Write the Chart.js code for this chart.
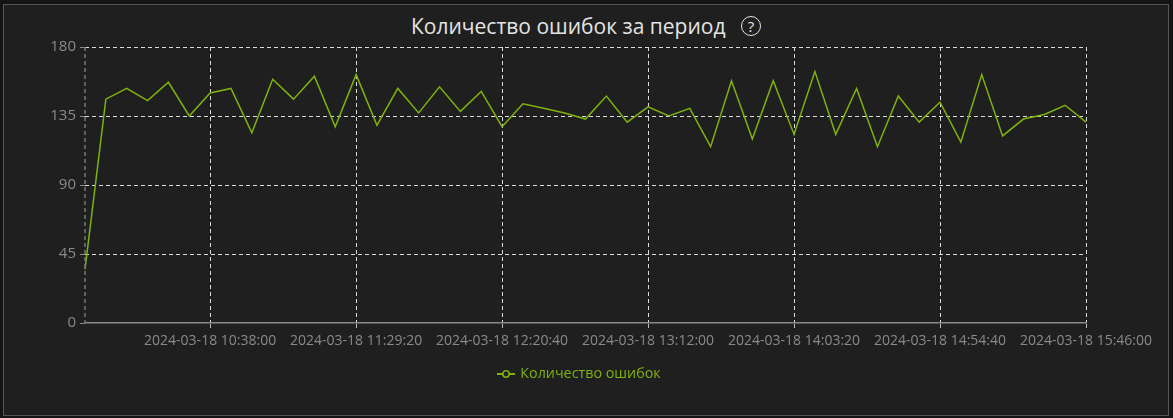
<!DOCTYPE html>
<html>
<head>
  <title>Количество ошибок за период</title>
  <script src="https://cdn.jsdelivr.net/npm/chart.js"></script>
  <style>
    body {
      margin: 0;
      background: #141414;
      font-family: "Open Sans", "Noto Sans", sans-serif;
    }
    #box {
      position: absolute;
      left: 3px;
      top: 4px;
      width: 1164px;
      height: 410px;
      border: 1px solid #555;
      background: #1f1f1f;
    }
    #title {
      position: absolute;
      left: 0;
      top: 7px;
      width: 1164px;
      text-align: center;
      color: #e4e4e4;
      font-size: 21px;
      line-height: 28px;
    }
    #title .help {
      display: inline-block;
      width: 18px;
      height: 18px;
      border: 1.6px solid #e4e4e4;
      border-radius: 50%;
      font-size: 15px;
      line-height: 18px;
      margin-left: 10px;
      vertical-align: 2px;
    }
    #legend {
      position: absolute;
      left: 0;
      top: 358px;
      width: 1150px;
      text-align: center;
      color: #7fb20c;
      font-size: 14.3px;
    }
    #legend svg { vertical-align: -1px; margin-right: 5px; }
    canvas { position: absolute; left: 0; top: 0; }
  </style>
</head>
<body>
<div id="box">
  <div id="title">Количество ошибок за период <span class="help">?</span></div>
  <canvas id="errChart" width="1164" height="410"></canvas>
  <div id="legend">
    <svg width="18" height="10"><line x1="0" y1="5" x2="18" y2="5" stroke="#7fb20c" stroke-width="2"/><circle cx="9" cy="5" r="3.2" fill="#1f1f1f" stroke="#7fb20c" stroke-width="1.6"/></svg>Количество ошибок
  </div>
</div>

<script>
  // data
  const day = "2024-03-18";
  const times = [
    "09:54:00", "10:01:20", "10:08:40", "10:16:00", "10:23:20", "10:30:40", "10:38:00",
    "10:45:20", "10:52:40", "11:00:00", "11:07:20", "11:14:40", "11:22:00", "11:29:20",
    "11:36:40", "11:44:00", "11:51:20", "11:58:40", "12:06:00", "12:13:20", "12:20:40",
    "12:28:00", "12:35:20", "12:42:40", "12:50:00", "12:57:20", "13:04:40", "13:12:00",
    "13:19:20", "13:26:40", "13:34:00", "13:41:20", "13:48:40", "13:56:00", "14:03:20",
    "14:10:40", "14:18:00", "14:25:20", "14:32:40", "14:40:00", "14:47:20", "14:54:40",
    "15:02:00", "15:09:20", "15:16:40", "15:24:00", "15:31:20", "15:38:40", "15:46:00"
  ];
  const errors = [
    35, 146, 153, 145, 157, 135, 150,
    153, 124, 159, 146, 161, 128, 162,
    129, 153, 137, 154, 138, 151, 128,
    143, 140, 137, 133, 148, 131, 141,
    135, 140, 115, 158, 120, 158, 123,
    164, 123, 153, 115, 148, 131, 144,
    118, 162, 122, 133, 136, 142, 131
  ];
  const tickTimes = ["10:38:00", "11:29:20", "12:20:40", "13:12:00", "14:03:20", "14:54:40", "15:46:00"];
  const yTicks = [0, 45, 90, 135, 180];

  const green = "#7fb20c";
  const labelGray = "#8a8a8a";

  // dashed grey line on the left edge of the plot
  const leftEdge = {
    id: "leftEdge",
    afterDraw(chart) {
      const a = chart.chartArea, c = chart.ctx;
      c.save();
      c.strokeStyle = "#777";
      c.lineWidth = 1.5;
      c.setLineDash([4, 3]);
      c.beginPath();
      c.moveTo(a.left, a.top);
      c.lineTo(a.left, a.bottom);
      c.stroke();
      c.restore();
    }
  };

  const ctx = document.getElementById("errChart").getContext("2d");
  new Chart(ctx, {
    type: "line",
    data: {
      labels: times,
      datasets: [{
        label: "Количество ошибок",
        data: errors,
        borderColor: green,
        borderWidth: 1.5,
        pointRadius: 0,
        tension: 0,
        fill: false
      }]
    },
    options: {
      responsive: false,
      animation: false,
      layout: { padding: { top: 42, right: 82, bottom: 52, left: 0 } },
      plugins: {
        legend: { display: false },
        tooltip: { enabled: false }
      },
      scales: {
        x: {
          type: "category",
          offset: false,
          afterFit: (s) => { s.height = 40; },
          border: { color: "#8a8a8a", width: 1.5, dash: [4, 3] },
          grid: {
            color: "#dcdcdc",
            lineWidth: 1,
            drawTicks: true,
            tickLength: 5,
            tickColor: "#bbbbbb",
            tickBorderDash: []
          },
          ticks: {
            autoSkip: false,
            maxRotation: 0,
            color: labelGray,
            padding: 5,
            font: { family: "'Open Sans', 'Noto Sans', sans-serif", size: 14 },
            callback: function (val) {
              const t = times[val];
              return tickTimes.includes(t) ? day + " " + t : null;
            }
          }
        },
        y: {
          min: 0,
          max: 180,
          afterFit: (s) => { s.width = 81; },
          afterBuildTicks: (s) => { s.ticks = yTicks.map(v => ({ value: v })); },
          border: { display: false, dash: [4, 3] },
          grid: {
            color: (c) => c.tick && c.tick.value === 0 ? "rgba(0,0,0,0)" : "#dcdcdc",
            lineWidth: 1,
            tickLength: 5,
            tickColor: "#8a8a8a",
            tickBorderDash: []
          },
          ticks: {
            color: labelGray,
            padding: 4,
            font: { family: "'Open Sans', 'Noto Sans', sans-serif", size: 15 }
          }
        }
      }
    },
    plugins: [leftEdge]
  });
</script>
</body>
</html>
